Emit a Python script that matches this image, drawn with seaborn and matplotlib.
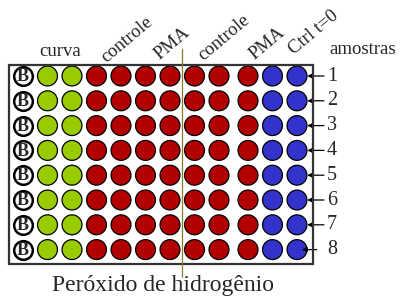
"""
Plate layout diagram: 8 x 12 wells, peroxide assay
"""

import pandas as pd
import numpy as np
import matplotlib
matplotlib.use("Agg")
import matplotlib.pyplot as plt
import seaborn as sns
from matplotlib.patches import Rectangle

# ---- data -------------------------------------------------------------
rows = [1, 2, 3, 4, 5, 6, 7, 8]
row_labels = ["1", "2", "3", "4", "5", "6", "7", "8"]
columns = [1, 2, 3, 4, 5, 6, 7, 8, 9, 10, 11, 12]
column_groups = ["branco", "curva", "curva",
                 "amostra", "amostra", "amostra", "amostra",
                 "amostra", "amostra", "amostra",
                 "ctrl", "ctrl"]
top_labels = ["curva", "controle", "PMA", "controle", "PMA", "Ctrl t=0", "amostras"]
bottom_label = "Peróxido de hidrogênio"

# ---- style ------------------------------------------------------------
palette = {"curva": "#99cc00", "amostra": "#b20000", "ctrl": "#3333cc"}
W, H = 400, 297
col0_px, col_step = 23, 24.5      # pixel centre of column 1, spacing
row0_px, row_step = 76, 24.8
gap_after = 9                      # small extra gap before column 10
gap_px = 4.5

sns.set_theme(style="white")
plt.rcParams["font.family"] = ["Liberation Serif", "DejaVu Serif"]

wells = pd.DataFrame([(c, r, g) for r in rows for c, g in zip(columns, column_groups)],
                     columns=["col", "row", "group"])
wells["x"] = wells["col"] + np.where(wells["col"] > gap_after, gap_px / col_step, 0)

fig = plt.figure(figsize=(W / 100, H / 100), dpi=100)
ax = fig.add_axes([0, 0, 1, 1])
ax.set_xlim(1 - col0_px / col_step, 1 + (W - col0_px) / col_step)
ax.set_ylim(1 + (H - row0_px) / row_step, 1 - row0_px / row_step)
ax.axis("off")


def px(x, y):
    """pixel position -> figure fraction"""
    return x / W, 1 - y / H


# plate outline and the divider line
fig.patches.append(Rectangle(px(9, 264), 304 / W, 199 / H, transform=fig.transFigure,
                             fill=False, edgecolor="#333333", linewidth=1.6, zorder=1))
fig.add_artist(plt.Line2D([182 / W, 182 / W], [1 - 49 / H, 1 - 277 / H],
                          transform=fig.transFigure, color="#8a7a2a", linewidth=0.9))

# coloured wells
colored = wells[wells["group"] != "branco"]
sns.scatterplot(data=colored, x="x", y="row", hue="group", palette=palette,
                s=205, edgecolor="black", linewidth=0.9, legend=False, ax=ax, zorder=3)

# blank wells with a B
blank = wells[wells["group"] == "branco"]
sns.scatterplot(data=blank, x="x", y="row", color="white", s=180,
                edgecolor="black", linewidth=1.8, legend=False, ax=ax, zorder=3)
for _, w in blank.iterrows():
    ax.text(w["x"], w["row"] + 0.03, "B", ha="center", va="center",
            fontsize=13, fontweight="bold", zorder=4)

# arrows and sample numbers on the right
last_x = wells["x"].max()
for r, lab in zip(rows, row_labels):
    if r == rows[-1]:
        head, tail = last_x + 0.2, last_x + 0.8
    else:
        head, tail = last_x + 0.42, last_x + 1.1
    ax.annotate("", xy=(head, r), xytext=(tail, r),
                arrowprops=dict(arrowstyle="-|>", color="black", lw=0.9,
                                mutation_scale=7, shrinkA=0, shrinkB=0))
    ax.text(last_x + 1.22, r, lab, ha="left", va="center", fontsize=14.5)

# column headings
label_pos = [(60, 51, 0), (127, 40, 40), (172, 43, 40), (224, 38, 40),
             (267, 43, 40), (314, 33, 40), (363, 49, 0)]
for txt, (x, y, rot) in zip(top_labels, label_pos):
    fig.text(*px(x, y), txt, ha="center", va="center", rotation=rot,
             rotation_mode="anchor", fontsize=13.5)

fig.text(*px(163, 286), bottom_label, ha="center", va="center", fontsize=17,
         family=["Liberation Serif", "DejaVu Serif"])

fig.savefig("out.png", dpi=100)
